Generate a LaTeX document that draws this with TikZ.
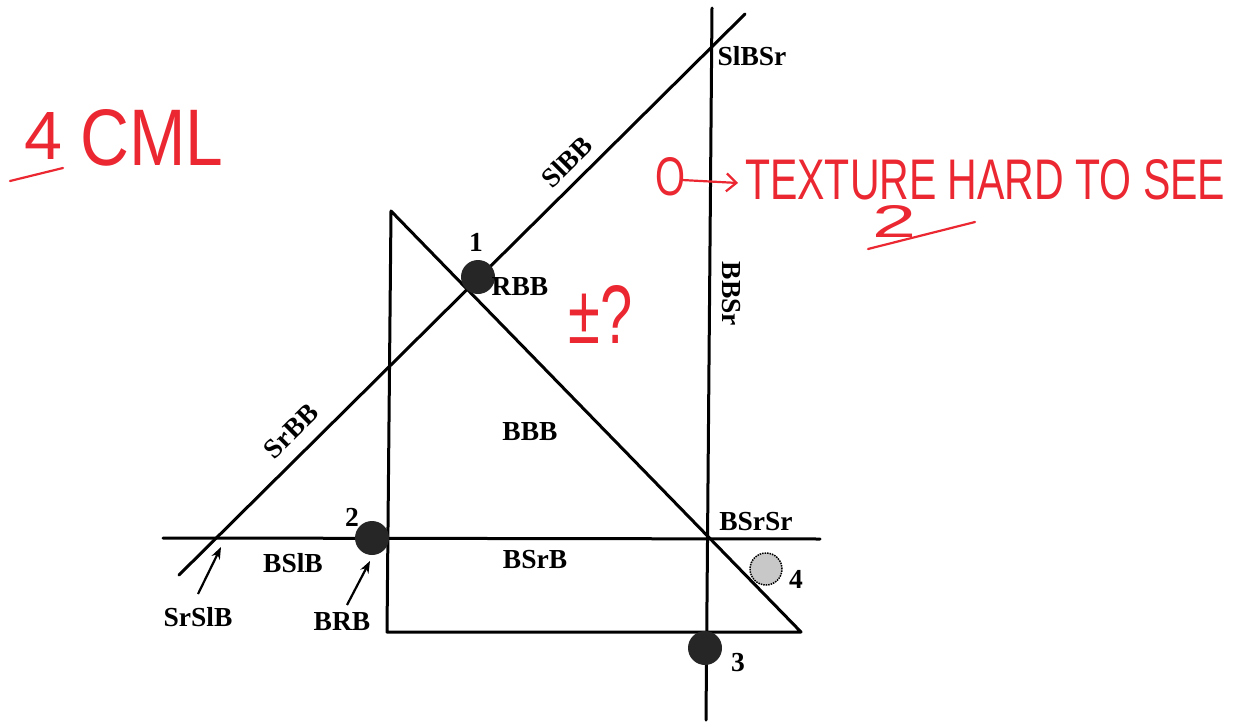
\documentclass[tikz,border=0pt]{standalone}
\usepackage{fontspec}
\usetikzlibrary{arrows.meta}
\setmainfont{Liberation Serif}
\newfontfamily\hand{Liberation Sans}
\definecolor{redink}{RGB}{235,40,50}
\definecolor{dotgray}{RGB}{200,200,200}
\begin{document}
\begin{tikzpicture}[x=1pt,y=-1pt,
  ln/.style={line width=3pt, line cap=round, line join=round},
  lbl/.style={font=\fontsize{27.5}{27.5}\selectfont\bfseries, inner sep=0pt},
  bigdot/.style={circle, fill=black!85, minimum size=34pt, inner sep=0pt},
  greydot/.style={circle, fill=dotgray, draw=black, densely dotted, line width=1.5pt, minimum size=32pt, inner sep=0pt},
  red/.style={text=redink, inner sep=0pt},
  redln/.style={draw=redink, line width=2.2pt, line cap=round}]
\useasboundingbox (0,0) rectangle (1243,723);
% coordinates
\coordinate (dA) at (179,575);
\coordinate (dB) at (745,14);
\coordinate (vT) at (712,8);
\coordinate (vB) at (706,720);
\coordinate (tTop) at (391,211);
\coordinate (tBL) at (387,632);
\coordinate (tBR) at (801,632);
\coordinate (hL) at (163,538);
\coordinate (hR) at (820,539);
% lines
\draw[ln] (dA) -- (dB);
\draw[ln] (vT) -- (vB);
\draw[ln] (tBR) -- (tTop) -- (tBL) -- (tBR);
\draw[ln] (hL) -- (hR);
% dots
\node[bigdot] (d1) at (478,277) {};
\node[bigdot] (d2) at (372,538) {};
\node[bigdot] (d3) at (705,648) {};
\node[greydot] (d4) at (766,569) {};
% labels
\node[lbl] (n1) at (476,242) {1};
\node[lbl] (n2) at (352,517) {2};
\node[lbl] (n3) at (738,663) {3};
\node[lbl] (n4) at (796,579) {4};
\node[lbl] (SlBSr) at (752,56) {SlBSr};
\node[lbl, rotate=45] (SlBB) at (567,162) {SlBB};
\node[lbl] (RBB) at (520,287) {RBB};
\node[lbl, rotate=-90] (BBSr) at (731,294) {BBSr};
\node[lbl] (BBB) at (530,432) {BBB};
\node[lbl, rotate=45] (SrBB) at (291,431) {SrBB};
\node[lbl] (BSlB) at (293,563) {BSlB};
\node[lbl] (BSrB) at (535,560) {BSrB};
\node[lbl] (BSrSr) at (756,522) {BSrSr};
\node[lbl] (SrSlB) at (198,617) {SrSlB};
\node[lbl] (BRB) at (342,622) {BRB};
\coordinate (a1) at (221,547);
\coordinate (a2) at (370,561);
\coordinate (s1) at (198,594);
\coordinate (s2) at (347,605);
\draw[line width=2.2pt, -{Stealth[length=12pt,width=9pt]}] (s1) -- (a1);
\draw[line width=2.2pt, -{Stealth[length=12pt,width=9pt]}] (s2) -- (a2);
% red handwriting
\node[red, anchor=south west] (h4) at (24,160) {\resizebox{38pt}{47pt}{\hand 4}};
\node[red, anchor=south west] (hcml) at (80,166) {\resizebox{143pt}{56pt}{\hand CML}};
\coordinate (u4a) at (10,181);
\coordinate (u4b) at (63,168);
\draw[redln] (u4a) -- (u4b);
\node[red, anchor=south west] (hO) at (655,196) {\resizebox{30pt}{38pt}{\hand O}};
\coordinate (arA) at (682,180);
\coordinate (arB) at (738,183);
\draw[redln, -{Straight Barb[length=10pt,width=18pt]}] (arA) -- (arB);
\node[red, anchor=south west] (htxt) at (745,200) {\resizebox{480pt}{40pt}{\hand TEXTURE HARD TO SEE}};
\node[red, anchor=south west] (h2) at (872,238) {\resizebox{44pt}{32pt}{\hand 2}};
\coordinate (u2a) at (868,249);
\coordinate (u2b) at (975,222);
\draw[redln] (u2a) -- (u2b);
\node[red, anchor=south west] (hpm) at (568,344) {\resizebox{64pt}{58pt}{\hand ±?}};
\end{tikzpicture}
\end{document}
